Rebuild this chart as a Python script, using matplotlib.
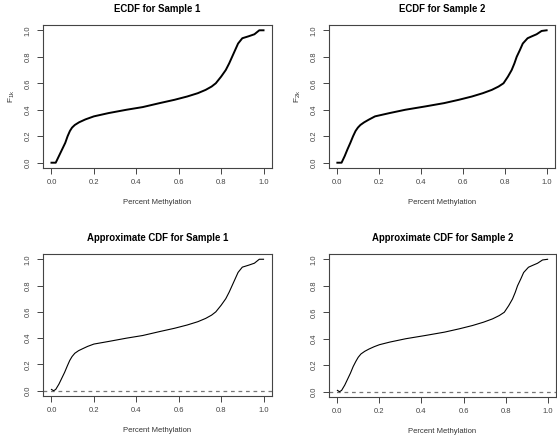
import matplotlib
matplotlib.use("Agg")
import matplotlib.pyplot as plt

plt.rcParams['font.family'] = ['Liberation Sans', 'DejaVu Sans']
plt.rcParams['mathtext.fontset'] = 'custom'
plt.rcParams['mathtext.rm'] = 'Liberation Sans'

# ECDF, sample 1
x1 = [0.0, 0.02, 0.035, 0.05, 0.065, 0.076, 0.087, 0.097, 0.11, 0.13, 0.16, 0.2, 0.27,
      0.354, 0.43, 0.51, 0.58, 0.64, 0.69, 0.727, 0.755, 0.775, 0.80, 0.822, 0.838,
      0.852, 0.866, 0.88, 0.90, 0.93, 0.957, 0.98, 1.0]
y1 = [0.0, 0.0, 0.05, 0.1, 0.15, 0.2, 0.24, 0.265, 0.285, 0.305, 0.327, 0.35, 0.375,
      0.4, 0.42, 0.45, 0.475, 0.5, 0.525, 0.55, 0.575, 0.6, 0.65, 0.7, 0.75,
      0.8, 0.85, 0.9, 0.94, 0.955, 0.97, 1.0, 1.0]

# ECDF, sample 2
x2 = [0.0, 0.02, 0.035, 0.048, 0.062, 0.075, 0.087, 0.098, 0.11, 0.128, 0.15, 0.18, 0.25,
      0.325, 0.42, 0.51, 0.58, 0.643, 0.695, 0.738, 0.77, 0.794, 0.815, 0.833, 0.846,
      0.857, 0.872, 0.886, 0.909, 0.93, 0.952, 0.976, 1.0]
y2 = [0.0, 0.0, 0.05, 0.1, 0.15, 0.2, 0.24, 0.265, 0.285, 0.305, 0.325, 0.35, 0.375,
      0.4, 0.425, 0.45, 0.475, 0.5, 0.525, 0.55, 0.575, 0.6, 0.65, 0.7, 0.75,
      0.8, 0.85, 0.9, 0.94, 0.955, 0.97, 0.995, 1.0]

# approximate CDF, sample 1
xa1 = [0.0, 0.01, 0.02, 0.035, 0.05, 0.062, 0.075, 0.086, 0.097, 0.11, 0.128, 0.15, 0.17, 0.2,
       0.27, 0.354, 0.43, 0.51, 0.58, 0.64, 0.69, 0.727, 0.755, 0.775, 0.80, 0.822,
       0.838, 0.852, 0.866, 0.88, 0.90, 0.93, 0.957, 0.98, 1.0]
ya1 = [0.01, 0.0, 0.01, 0.05, 0.1, 0.14, 0.19, 0.23, 0.26, 0.285, 0.305, 0.322, 0.337, 0.355,
       0.375, 0.4, 0.42, 0.45, 0.475, 0.5, 0.525, 0.55, 0.575, 0.6, 0.65, 0.7,
       0.75, 0.8, 0.85, 0.9, 0.94, 0.955, 0.97, 1.0, 1.0]

# approximate CDF, sample 2
xa2 = [0.0, 0.01, 0.02, 0.035, 0.05, 0.062, 0.075, 0.088, 0.099, 0.112, 0.13, 0.15, 0.175, 0.2,
       0.25, 0.325, 0.42, 0.51, 0.58, 0.643, 0.695, 0.738, 0.77, 0.794, 0.815, 0.833,
       0.846, 0.857, 0.872, 0.886, 0.909, 0.93, 0.952, 0.976, 1.0]
ya2 = [0.01, 0.0, 0.01, 0.05, 0.1, 0.14, 0.19, 0.23, 0.26, 0.285, 0.305, 0.322, 0.34, 0.355,
       0.375, 0.4, 0.425, 0.45, 0.475, 0.5, 0.525, 0.55, 0.575, 0.6, 0.65, 0.7,
       0.75, 0.8, 0.85, 0.9, 0.94, 0.955, 0.97, 0.995, 1.0]

ticks = [0.0, 0.2, 0.4, 0.6, 0.8, 1.0]
ticklabels = ['0.0', '0.2', '0.4', '0.6', '0.8', '1.0']

W, H = 557, 441
fig = plt.figure(figsize=(W / 100, H / 100), dpi=100)


def make_ax(l, r, t, b):
    return fig.add_axes([l / W, 1 - b / H, (r - l) / W, (b - t) / H])


def style(ax, title, ylabel=None):
    ax.set_xlim(-0.04, 1.04)
    ax.set_ylim(-0.04, 1.04)
    ax.set_xticks(ticks)
    ax.set_xticklabels(ticklabels)
    ax.set_yticks(ticks)
    ax.set_yticklabels(ticklabels)
    ax.tick_params(length=4, width=0.7, colors='#444444', labelsize=5.5, pad=4)
    ax.tick_params(axis='y', labelrotation=90)
    for lab in ax.get_yticklabels():
        lab.set_va('center')
    for s in ax.spines.values():
        s.set_color('#444444')
        s.set_linewidth(0.8)
    ax.set_title(title, fontsize=6.9, fontweight='bold', pad=9.5)
    ax.set_xlabel('Percent Methylation', fontsize=5.5, color='#333333', labelpad=9)
    if ylabel:
        ax.set_ylabel(ylabel, fontsize=6, color='#333333', labelpad=5.5)


ax1 = make_ax(43, 272, 25, 168)
ax1.plot(x1, y1, color='black', lw=1.4)
style(ax1, 'ECDF for Sample 1', r'$\mathregular{F_{1k}}$')

ax2 = make_ax(329, 555, 25, 168)
ax2.plot(x2, y2, color='black', lw=1.4)
style(ax2, 'ECDF for Sample 2', r'$\mathregular{F_{2k}}$')

ax3 = make_ax(43, 272, 254, 396)
ax3.axhline(0, color='#777777', lw=0.9, ls=(0, (3, 3)))
ax3.plot(xa1, ya1, color='black', lw=0.8)
style(ax3, 'Approximate CDF for Sample 1')

ax4 = make_ax(329, 556, 254, 397)
ax4.axhline(0, color='#777777', lw=0.9, ls=(0, (3, 3)))
ax4.plot(xa2, ya2, color='black', lw=0.8)
style(ax4, 'Approximate CDF for Sample 2')

fig.savefig('out.png', dpi=100)
